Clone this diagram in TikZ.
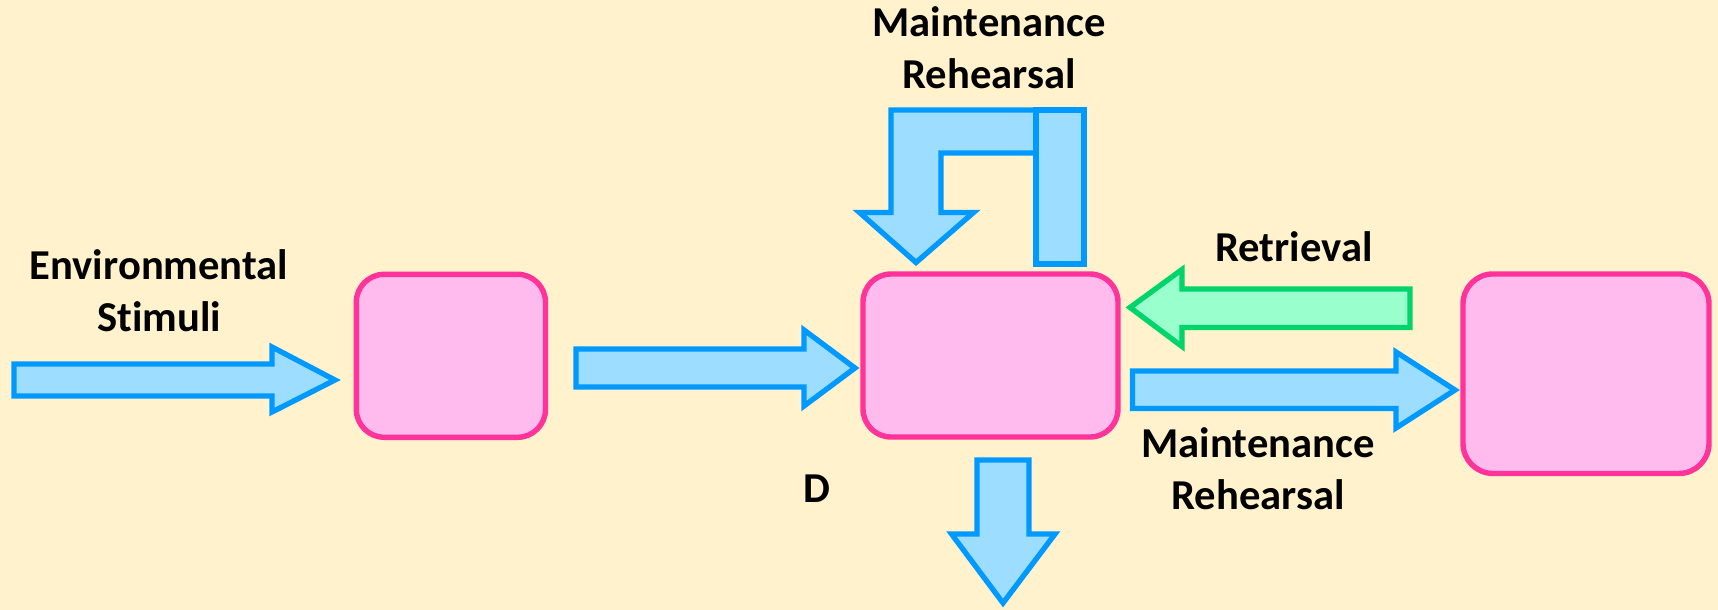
\documentclass[tikz,border=0pt]{standalone}
\usepackage{fontspec}
\setmainfont{Carlito}[Ligatures=NoCommon]
\definecolor{bgcream}{HTML}{FFF2CC}
\definecolor{boxfill}{HTML}{FFBBEE}
\definecolor{boxline}{HTML}{FF3399}
\definecolor{bluefill}{HTML}{9DDDFF}
\definecolor{blueline}{HTML}{0099FF}
\definecolor{greenfill}{HTML}{99FFCC}
\definecolor{greenline}{HTML}{00D46A}
\tikzset{
  memstore/.style={draw=boxline, fill=boxfill, line width=2.7pt, rounded corners=14pt,
    inner sep=0pt, rectangle},
  flowblue/.style={draw=blueline, fill=bluefill, line width=2.65pt, line join=miter},
  flowgreen/.style={draw=greenline, fill=greenfill, line width=2.65pt, line join=miter},
  lbl/.style={font=\fontsize{21.3}{26}\selectfont\bfseries, align=center, anchor=base,
    inner sep=0pt, text=black}
}
\begin{document}
\begin{tikzpicture}[x=0.5pt, y=-0.5pt]
  % canvas
  \fill[bgcream] (0,0) rectangle (1718,610);
  \useasboundingbox (0,0) rectangle (1718,610);

  % memory stores
  \node[memstore, minimum width=94.6pt, minimum height=81.5pt] (sensory) at (450.9,355.8) {};
  \node[memstore, minimum width=127.5pt, minimum height=81.5pt] (shortterm) at (990.5,355.5) {};
  \node[memstore, minimum width=123pt, minimum height=99.75pt, rounded corners=15pt] (longterm) at (1586,373.7) {};

  % environmental stimuli into the sensory store
  \draw[flowblue] (14,364) -- (272,364) -- (272,347) -- (335,380) -- (272,412) -- (272,396) -- (14,396) -- cycle;
  % sensory store to short-term store
  \draw[flowblue] (576,349) -- (804,349) -- (804,330) -- (855,368) -- (804,406) -- (804,387) -- (576,387) -- cycle;
  % retrieval from long-term store
  \draw[flowgreen] (1410,289) -- (1182,289) -- (1182,269.5) -- (1130,307.5) -- (1182,346.5) -- (1182,327.5) -- (1410,327.5) -- cycle;
  % rehearsal into long-term store
  \draw[flowblue] (1132.5,371) -- (1396,371) -- (1396,352) -- (1455,390) -- (1396,428) -- (1396,408.5) -- (1132.5,408.5) -- cycle;
  % decay out of the short-term store
  \draw[flowblue] (977,460) -- (1029,460) -- (1029,534) -- (1055,534) -- (1003,603) -- (951.5,534) -- (977,534) -- cycle;
  % rehearsal loop back into the short-term store
  \draw[flowblue] (1036,110) -- (891,110) -- (891,212.5) -- (859.5,212.5) -- (916,262.5) -- (973.5,212.5) -- (941,212.5) -- (941,153) -- (1036,153) -- cycle;
  \draw[flowblue] (1036,110) rectangle (1084,264);

  % labels (base anchor sits on the last line's baseline)
  \node[lbl] (envlbl) at (159,331.7) {Environmental\\Stimuli};
  \node[lbl] (looplbl) at (989,88.3) {Maintenance\\Rehearsal};
  \node[lbl] (retlbl) at (1294,261.7) {Retrieval};
  \node[lbl] (rehlbl) at (1258,509.3) {Maintenance\\Rehearsal};
  \node[lbl] (dlbl) at (816.5,502.7) {D};
\end{tikzpicture}
\end{document}
